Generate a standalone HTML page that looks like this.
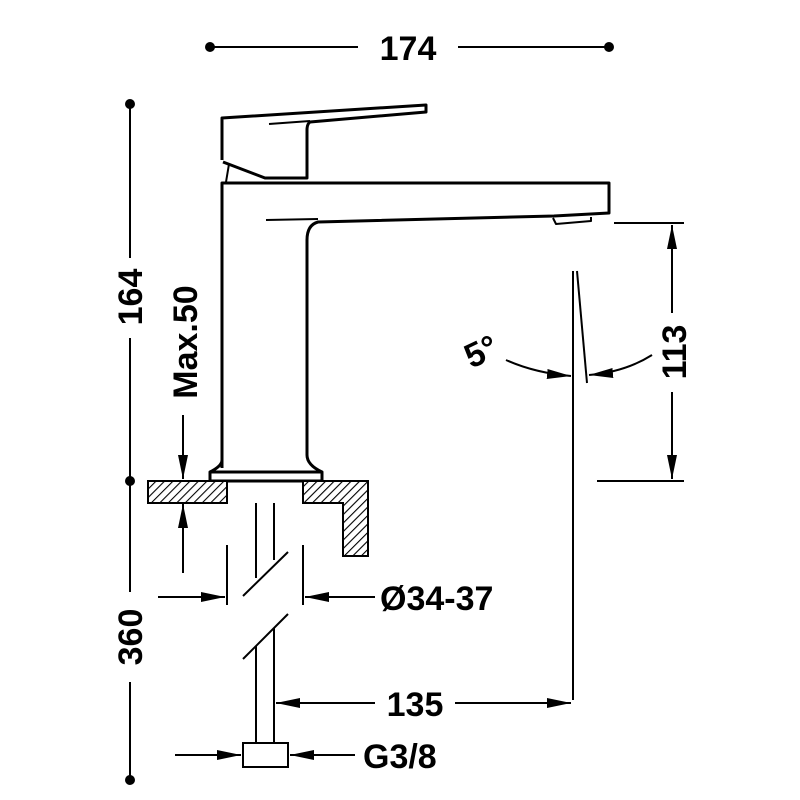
<!DOCTYPE html>
<html><head><style>html,body{margin:0;padding:0;background:#fff}svg{display:block}</style></head><body>
<svg width="800" height="800" viewBox="0 0 800 800" xmlns="http://www.w3.org/2000/svg">
<defs>
<pattern id="h" width="6" height="6" patternUnits="userSpaceOnUse" patternTransform="rotate(45)">
<rect width="6" height="6" fill="#fff"/><line x1="0" y1="0" x2="0" y2="6" stroke="#000" stroke-width="2.2"/></pattern>
<marker id="b" viewBox="0 0 24 10" refX="24" refY="5" markerWidth="24" markerHeight="10" markerUnits="userSpaceOnUse" orient="auto"><path d="M0,0L24,5L0,10z" fill="#000"/></marker>
</defs>
<g font-family="Liberation Sans, sans-serif" font-weight="bold" font-size="34" fill="#000">
<circle cx="210" cy="47" r="5"/><circle cx="609" cy="47" r="5"/>
<g stroke="#000" stroke-width="2"><line x1="210" y1="47" x2="358" y2="47"/><line x1="458" y1="47" x2="609" y2="47"/></g>
<text x="408" y="60" text-anchor="middle">174</text>
<circle cx="130" cy="104" r="5"/><circle cx="130" cy="481" r="5"/><circle cx="130" cy="780" r="5"/>
<g stroke="#000" stroke-width="2"><line x1="130" y1="104" x2="130" y2="258"/><line x1="130" y1="338" x2="130" y2="592"/><line x1="130" y1="682" x2="130" y2="780"/></g>
<text transform="translate(142,297) rotate(-90)" text-anchor="middle">164</text>
<text transform="translate(142,637) rotate(-90)" text-anchor="middle">360</text>
<text transform="translate(197,342) rotate(-90)" text-anchor="middle">Max.50</text>
<g stroke="#000" stroke-width="2" fill="none">
<line x1="183" y1="415" x2="183" y2="479" marker-end="url(#b)"/>
<line x1="183" y1="573" x2="183" y2="504" marker-end="url(#b)"/>
</g>
<g stroke="#000" stroke-width="3" fill="none" stroke-linejoin="round">
<path d="M222,468 L222,183 L609,183 L609,213 L554,216 L318,222 Q307,225 307,240 L307,455 Q307,465 322,472"/>
<path d="M222,460 Q222,466 210,472"/>
<rect x="210" y="472" width="112" height="9"/>
<path d="M222,160 L222,118 L426,105 L426,112 L310,122 Q307,124 307,130 L307,178 L265,178 L223,162"/>
<path d="M269,124 L310,121" stroke-width="2"/>
<path d="M229,164 L226,182" stroke-width="2"/>
<path d="M266,220 L318,219" stroke-width="2"/>
<path d="M553,218 L556,224 L591,221 L591,217" stroke-width="2"/>
</g>
<g stroke="#000" stroke-width="2" fill="url(#h)">
<rect x="148" y="481" width="79" height="22"/>
<path d="M303,481 L368,481 L368,556 L343,556 L343,503 L303,503 Z"/>
</g>
<g stroke="#000" stroke-width="2" fill="none">
<line x1="256" y1="503" x2="256" y2="578"/><line x1="274" y1="503" x2="274" y2="560"/>
<line x1="243" y1="596" x2="288" y2="552"/>
<line x1="243" y1="659" x2="288" y2="614"/>
<line x1="256" y1="646" x2="256" y2="743"/><line x1="274" y1="628" x2="274" y2="743"/>
<rect x="243" y="743" width="45" height="24" fill="#fff"/>
<line x1="227" y1="545" x2="227" y2="605"/><line x1="303" y1="545" x2="303" y2="605"/>
<line x1="158" y1="597" x2="225" y2="597" marker-end="url(#b)"/>
<line x1="375" y1="597" x2="305" y2="597" marker-end="url(#b)"/>
<line x1="175" y1="755" x2="241" y2="755" marker-end="url(#b)"/>
<line x1="355" y1="755" x2="290" y2="755" marker-end="url(#b)"/>
<line x1="375" y1="703" x2="276" y2="703" marker-end="url(#b)"/>
<line x1="455" y1="703" x2="571" y2="703" marker-end="url(#b)"/>
<line x1="573" y1="271" x2="573" y2="700"/>
<line x1="577" y1="271" x2="587" y2="383"/>
<line x1="614" y1="223" x2="684" y2="223"/>
<line x1="597" y1="481" x2="684" y2="481"/>
<line x1="672" y1="313" x2="672" y2="225" marker-end="url(#b)"/>
<line x1="672" y1="392" x2="672" y2="479" marker-end="url(#b)"/>
<path d="M506,360 Q535,373 571,376" marker-end="url(#b)"/>
<path d="M652,355 Q625,372 589,375" marker-end="url(#b)"/>
</g>
<text x="380" y="610">Ø34-37</text>
<text x="415" y="716" text-anchor="middle">135</text>
<text x="363" y="768">G3/8</text>
<text transform="translate(686,352) rotate(-90)" text-anchor="middle">113</text>
<text transform="translate(486,362) rotate(-25)" text-anchor="middle">5°</text>
</g>
</svg>
</body></html>
